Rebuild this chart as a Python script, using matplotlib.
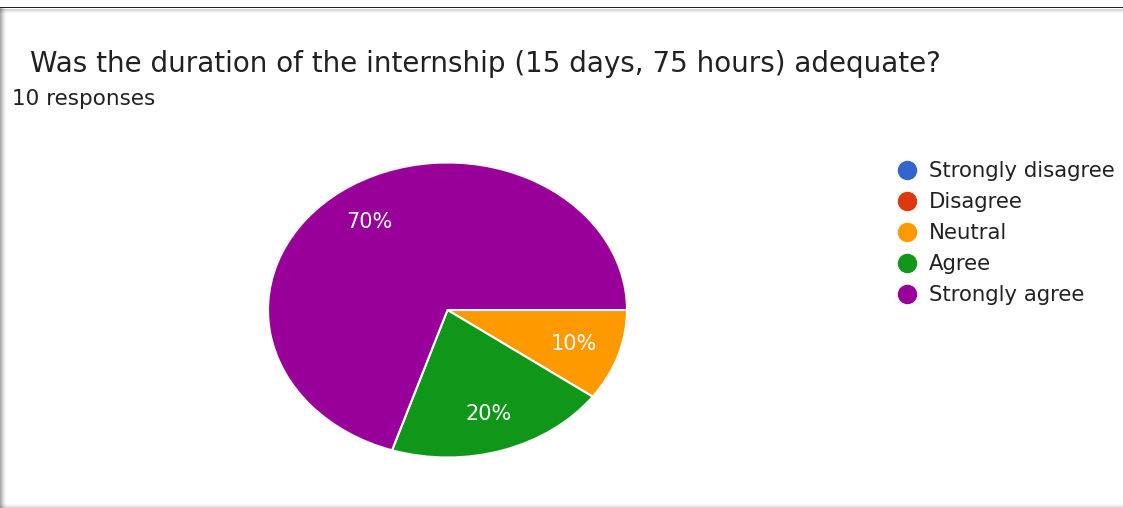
import matplotlib.pyplot as plt
from matplotlib.lines import Line2D
from matplotlib.patches import Rectangle

plt.rcParams['font.family'] = ['DejaVu Sans']

# survey answers
categories = ['Strongly disagree', 'Disagree', 'Neutral', 'Agree', 'Strongly agree']
counts = [0, 0, 1, 2, 7]
colors = ['#3366cc', '#dc3912', '#ff9900', '#109618', '#990099']

title = 'Was the duration of the internship (15 days, 75 hours) adequate?'
subtitle = '10 responses'

W, H = 1123, 508
fig = plt.figure(figsize=(W / 100, H / 100), dpi=100)
fig.patch.set_facecolor('white')

# screenshot frame: dark top line and soft grey shadows
fig.patches.append(Rectangle((0, 1 - 8 / H), 1, 1.5 / H, transform=fig.transFigure,
                             facecolor='#222222', edgecolor='none'))
for i, a in enumerate([0.35, 0.25, 0.15, 0.08]):
    fig.patches.append(Rectangle((0, 1 - (9.5 + i) / H), 1, 1 / H, transform=fig.transFigure,
                                 facecolor='black', alpha=a * 0.5, edgecolor='none'))
for i, a in enumerate([0.55, 0.45, 0.3, 0.2, 0.12, 0.06]):
    fig.patches.append(Rectangle((i / W, 0), 1.3 / W, 1 - 8 / H, transform=fig.transFigure,
                                 facecolor='black', alpha=a * 0.6, edgecolor='none'))
for i, a in enumerate([0.3, 0.2, 0.12, 0.06]):
    fig.patches.append(Rectangle((0, i / H), 1, 1.3 / H, transform=fig.transFigure,
                                 facecolor='black', alpha=a * 0.5, edgecolor='none'))

fig.text(30 / W, 1 - 64 / H, title, fontsize=20, color='#212121', va='center', ha='left')
fig.text(12 / W, 1 - 99 / H, subtitle, fontsize=15.5, color='#212121', va='center', ha='left')

# pie (stretched horizontally like the reference)
cx, cy, rx, ry = 447.5, 310, 179.5, 147.5
ax = fig.add_axes([(cx - rx) / W, 1 - (cy + ry) / H, 2 * rx / W, 2 * ry / H])
vals = [c for c in counts if c > 0]
cols = [col for c, col in zip(counts, colors) if c > 0]
wedges, texts, autotexts = ax.pie(vals, colors=cols, startangle=0, counterclock=False,
                                  autopct=lambda p: '%d%%' % round(p), pctdistance=0.74,
                                  wedgeprops=dict(edgecolor='white', linewidth=1.5),
                                  textprops=dict(color='white', fontsize=15))
ax.set_aspect('auto')
ax.set_xlim(-1, 1)
ax.set_ylim(-1, 1)
ax.axis('off')

handles = [Line2D([0], [0], marker='o', linestyle='none', markersize=13,
                  markerfacecolor=c, markeredgecolor=c) for c in colors]
fig.legend(handles, categories, loc='upper left', bbox_to_anchor=(896 / W, 1 - 161 / H),
           frameon=False, fontsize=15.3, handlelength=1.0, handletextpad=0.55,
           labelspacing=0.52, borderpad=0, borderaxespad=0, labelcolor='#222222')

fig.savefig('out.png', dpi=100)
